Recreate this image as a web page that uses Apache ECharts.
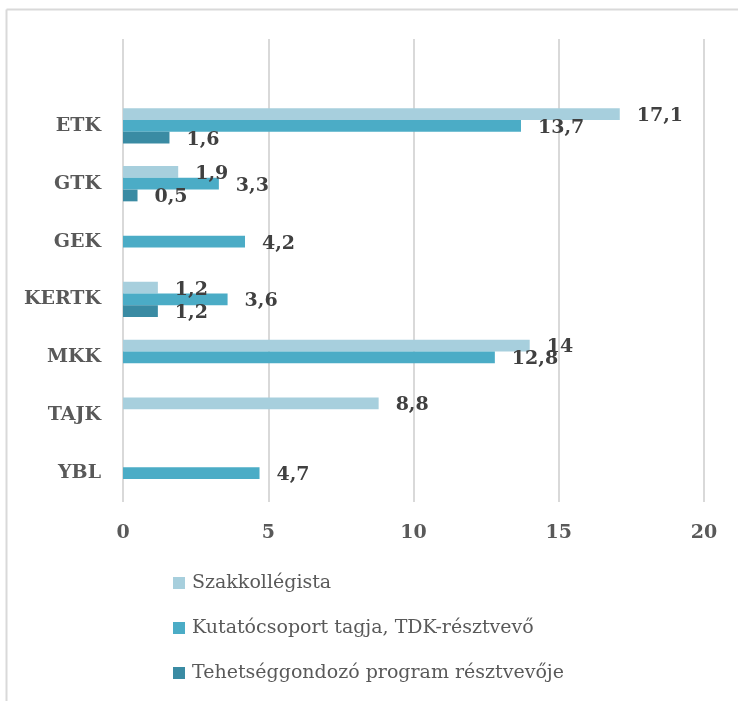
<!DOCTYPE html>
<html>
<head>
<meta charset="utf-8">
<script src="https://cdn.jsdelivr.net/npm/echarts@6/dist/echarts.min.js"></script>
<style>
  html, body { margin: 0; padding: 0; background: #fff; overflow: hidden; }
  #chart { width: 738px; height: 701px; }
</style>
</head>
<body>
<div id="chart"></div>
<script>
// karok (felülről lefelé)
const karok = ['ETK', 'GTK', 'GEK', 'KERTK', 'MKK', 'TAJK', 'YBL'];

const szakkollegista = [17.1, 1.9, null, 1.2, 14, 8.8, null];
const kutatocsoport = [13.7, 3.3, 4.2, 3.6, 12.8, null, 4.7];
const tehetseg = [1.6, 0.5, null, 1.2, null, null, null];

const xTicks = [0, 5, 10, 15, 20];

const chart = echarts.init(document.getElementById('chart'));

const serif = 'DejaVu Serif';

function label() {
  return {
    show: true,
    position: 'right',
    distance: 17,
    offset: [0, 2],
    fontFamily: serif,
    fontWeight: 'bold',
    fontSize: 19,
    color: '#404040',
    formatter: p => String(p.value).replace('.', ',')
  };
}

// az Excel-ábrán a legfelső sáv üres
const withGap = arr => [null].concat(arr);

const frame = { stroke: '#d9d9d9', lineWidth: 2 };

let option = {
  animation: false,
  graphic: [
    // keret: csak a bal és felső él látszik a kivágaton
    { type: 'line', silent: true, shape: { x1: 6.5, y1: 9.5, x2: 738, y2: 9.5 }, style: frame },
    { type: 'line', silent: true, shape: { x1: 6.5, y1: 9.5, x2: 6.5, y2: 701 }, style: frame }
  ],
  grid: { left: 123, right: 34, top: 39, bottom: 199 },
  xAxis: {
    type: 'value',
    min: xTicks[0],
    max: xTicks[xTicks.length - 1],
    interval: 5,
    axisLine: { show: false },
    axisTick: { show: false },
    splitLine: { lineStyle: { color: '#d9d9d9', width: 2 } },
    axisLabel: {
      margin: 22,
      fontFamily: serif,
      fontWeight: 'bold',
      fontSize: 19,
      color: '#595959'
    }
  },
  yAxis: {
    type: 'category',
    inverse: true,
    data: [''].concat(karok),
    axisLine: { show: false },
    axisTick: { show: false },
    axisLabel: {
      margin: 22,
      fontFamily: serif,
      fontWeight: 'bold',
      fontSize: 19,
      color: '#595959'
    }
  },
  legend: {
    orient: 'vertical',
    left: 173,
    top: 571,
    padding: 0,
    icon: 'rect',
    itemWidth: 12,
    itemHeight: 12,
    itemGap: 21,
    textStyle: {
      fontFamily: serif,
      fontSize: 19,
      lineHeight: 24,
      color: '#595959',
      padding: [0, 0, 0, 2]
    }
  },
  series: [
    {
      name: 'Szakkollégista',
      type: 'bar',
      data: withGap(szakkollegista),
      itemStyle: { color: '#a7cfdd' },
      label: label(),
      barGap: '0%',
      barCategoryGap: '39%'
    },
    {
      name: 'Kutatócsoport tagja, TDK-résztvevő',
      type: 'bar',
      data: withGap(kutatocsoport),
      itemStyle: { color: '#4bacc6' },
      label: label(),
      barGap: '0%',
      barCategoryGap: '39%'
    },
    {
      name: 'Tehetséggondozó program résztvevője',
      type: 'bar',
      data: withGap(tehetseg),
      itemStyle: { color: '#3a8ba3' },
      label: label(),
      barGap: '0%',
      barCategoryGap: '39%'
    }
  ]
};

chart.setOption(option);
</script>
</body>
</html>
